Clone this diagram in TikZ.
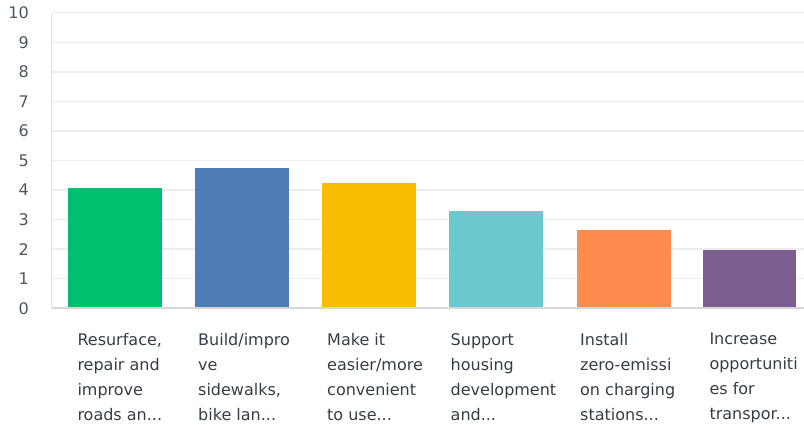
\documentclass[tikz,border=0pt]{standalone}
\usepackage{fontspec}
\setmainfont{DejaVu Sans}

\definecolor{smgreen}{HTML}{00BF6F}
\definecolor{smblue}{HTML}{507CB6}
\definecolor{smyellow}{HTML}{F9BE00}
\definecolor{smteal}{HTML}{6BC8CD}
\definecolor{smorange}{HTML}{FF8B4F}
\definecolor{smpurple}{HTML}{7D5E90}
\definecolor{gridgray}{HTML}{EDEDED}
\definecolor{axisgray}{HTML}{D6D6D6}
\definecolor{labelgray}{HTML}{333E48}
\definecolor{tickgray}{HTML}{4B5863}

\begin{document}
\begin{tikzpicture}[x=1pt,y=1pt,
        bar/.style={anchor=south west, minimum width=93.5pt, inner sep=0pt, outer sep=0pt},
        lbl/.style={anchor=north west, inner sep=0pt, align=left, text=labelgray, font=\fontsize{16}{25}\selectfont},
        tick/.style={anchor=east, inner sep=0pt, text=tickgray, font=\fontsize{16}{19}\selectfont},
        gridline/.style={draw=gridgray, line width=1.5pt}]
                \useasboundingbox (0,0) rectangle (804,425);

                \coordinate (origin) at (51.7,116.7);
                \coordinate (top) at (51.7,412.3);
                \coordinate (right) at (804,116.7);

                \draw[gridline] (51.7,116.7+1*29.56) -- (804,116.7+1*29.56);
                \draw[gridline] (51.7,116.7+2*29.56) -- (804,116.7+2*29.56);
                \draw[gridline] (51.7,116.7+3*29.56) -- (804,116.7+3*29.56);
                \draw[gridline] (51.7,116.7+4*29.56) -- (804,116.7+4*29.56);
                \draw[gridline] (51.7,116.7+5*29.56) -- (804,116.7+5*29.56);
                \draw[gridline] (51.7,116.7+6*29.56) -- (804,116.7+6*29.56);
                \draw[gridline] (51.7,116.7+7*29.56) -- (804,116.7+7*29.56);
                \draw[gridline] (51.7,116.7+8*29.56) -- (804,116.7+8*29.56);
                \draw[gridline] (51.7,116.7+9*29.56) -- (804,116.7+9*29.56);
                \draw[gridline] (top) -- (804,412.3);
                \draw[draw=axisgray!70, line width=1.5pt] (origin) -- (top);

                \node[tick] (t0) at (29,116.7) {0};
                \node[tick] (t1) at (29,116.7+1*29.56) {1};
                \node[tick] (t2) at (29,116.7+2*29.56) {2};
                \node[tick] (t3) at (29,116.7+3*29.56) {3};
                \node[tick] (t4) at (29,116.7+4*29.56) {4};
                \node[tick] (t5) at (29,116.7+5*29.56) {5};
                \node[tick] (t6) at (29,116.7+6*29.56) {6};
                \node[tick] (t7) at (29,116.7+7*29.56) {7};
                \node[tick] (t8) at (29,116.7+8*29.56) {8};
                \node[tick] (t9) at (29,116.7+9*29.56) {9};
                \node[tick] (t10) at (29,116.7+10*29.56) {10};

                \node[bar, fill=smgreen, minimum height=120pt] (roads) at (68.3,116.7) {};
                \node[bar, fill=smblue, minimum height=140pt] (sidewalks) at (195.3,116.7) {};
                \node[bar, fill=smyellow, minimum height=125.5pt] (transit) at (322.3,116.7) {};
                \node[bar, fill=smteal, minimum height=97.5pt] (housing) at (449,116.7) {};
                \node[bar, fill=smorange, minimum height=78pt] (charging) at (577,116.7) {};
                \node[bar, fill=smpurple, minimum height=58.3pt] (transport) at (702.7,116.7) {};

                \draw[draw=axisgray, line width=2pt] (origin) -- (right);

                \node[lbl] (lroads) at (77.3,92) {Resurface,\\repair and\\improve\\roads an...};
                \node[lbl] (lsidewalks) at (198,92) {Build/impro\\ve\\sidewalks,\\bike lan...};
                \node[lbl] (ltransit) at (327,92) {Make it\\easier/more\\convenient\\to use...};
                \node[lbl] (lhousing) at (450.5,92) {Support\\housing\\development\\and...};
                \node[lbl] (lcharging) at (580,92) {Install\\zero-emissi\\on charging\\stations...};
                \node[lbl] (ltransport) at (709.3,92) {Increase\\opportuniti\\es for\\transpor...};
            \end{tikzpicture}
\end{document}
